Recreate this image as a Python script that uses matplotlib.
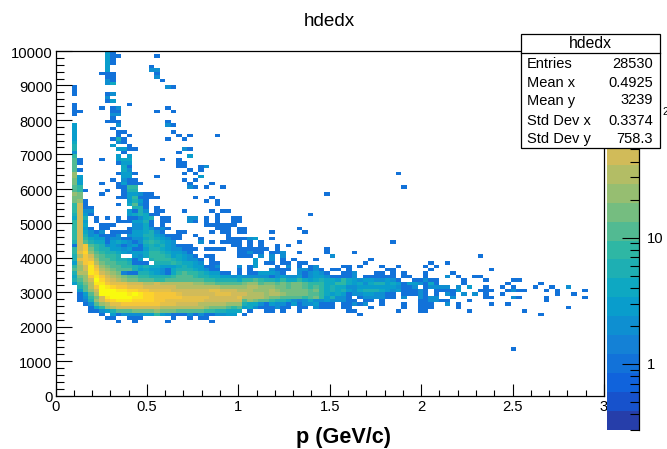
import numpy as np
import matplotlib
matplotlib.use("Agg")
import matplotlib.pyplot as plt
from matplotlib.colors import BoundaryNorm, ListedColormap
from matplotlib.patches import Rectangle
from matplotlib.ticker import LogLocator, MultipleLocator, NullFormatter
from matplotlib.transforms import Affine2D, ScaledTranslation

plt.rcParams["font.family"] = ["Liberation Sans", "DejaVu Sans"]

# histogram binning: 100 x 100 bins
N_BINS = 100
P_MAX = 3.0
DEDX_MAX = 10000

# colour level codes read off the picture and the count each one stands for
LEVEL_CODES = "0123456789abcdefghij"
level_counts = [0.33, 0.47, 0.66, 1, 1.4, 2, 3, 4, 5.5, 8,
                11, 16, 22, 32, 45, 63, 90, 125, 180, 250]

# (dedx bin, first p bin, level codes), "." is an empty bin
sparse_top = [
    (99, 9, "63"), (98, 9, "633"), (98, 18, "3"), (97, 9, "63"), (96, 9, "63"),
    (95, 9, "6"), (95, 17, "3"), (94, 9, "6"), (94, 17, "55"),
    (93, 8, "333"), (93, 18, "3"), (92, 9, "33"), (92, 18, "5"),
    (91, 9, "53"), (91, 19, "3"), (90, 9, "57"), (89, 3, "3"), (89, 20, "53"),
    (88, 3, "3"), (87, 3, "3"), (87, 9, "35"), (86, 9, "5"), (85, 9, "36"),
    (84, 3, "3"), (84, 13, "3"), (83, 3, "3"), (83, 8, "3"), (83, 10, "35"), (83, 20, "3"),
    (82, 3, "33"), (82, 10, "33"), (82, 18, "3"), (82, 21, "3"),
    (81, 3, "3"), (81, 10, "55"), (80, 10, "3"), (79, 9, "333"), (79, 20, "3"),
    (78, 3, "6"), (78, 11, "5"), (78, 20, "53"), (77, 3, "6"), (77, 10, "3"),
    (76, 3, "6"), (76, 11, "33"), (76, 21, "3"),
    (75, 3, "6"), (75, 11, "3"), (75, 13, "3"), (75, 22, "3"), (75, 24, "3"), (75, 29, "3"),
    (74, 3, "6"), (74, 10, "383"), (74, 20, "3"), (74, 23, "3"),
    (73, 3, "7"), (73, 11, "53"), (72, 3, "8"), (72, 10, "6"), (72, 13, "3"),
    (71, 3, "8"), (71, 11, "6633"), (71, 23, "53"),
    (70, 3, "5"), (70, 12, "3"), (70, 22, "3"),
    (69, 3, "9"), (69, 11, "6.6"), (69, 24, "6"),
    (68, 3, "a3"), (68, 8, "3"), (68, 11, "677"), (68, 19, "3"), (68, 22, "3"),
    (67, 3, "a3"), (67, 11, "366"), (67, 22, "33"),
    (66, 3, "a"), (66, 12, "73"), (66, 22, "33"), (66, 26, "35"),
    (65, 3, "a3"), (65, 12, "75"), (65, 24, "3"), (65, 26, "3"),
    (64, 3, "c"), (64, 11, "3663"), (64, 23, "3"), (64, 25, "3"), (64, 62, "3"),
    (63, 3, "c6"), (63, 12, "66"), (63, 18, "3"), (63, 26, "6"),
    (62, 3, "b6"), (62, 10, "3"), (62, 12, "533"), (62, 23, "3"), (62, 25, "3"),
    (61, 3, "b6"), (61, 8, "3"), (61, 11, "36333"), (61, 24, "3"), (61, 28, "3"),
    (60, 3, "a9"), (60, 11, "3399"), (60, 24, "53"), (60, 27, "3"), (60, 30, "3"), (60, 63, "3"),
    (59, 3, "a93"), (59, 9, "3"), (59, 12, "388"),
    (58, 3, "cb"), (58, 8, "3"), (58, 12, "366533"), (58, 49, "3"),
    (57, 3, "bb"), (57, 11, "33693333"), (57, 25, "3"), (57, 28, "3"),
    (56, 3, "bc3"), (56, 13, "6863"), (56, 27, "3"), (56, 29, "3"),
    (55, 3, "9e3"), (55, 11, "3"), (55, 13, "7a53"), (55, 29, "3"),
    (54, 3, "9e33"), (54, 14, "883"), (54, 18, "3"),
    (53, 3, "9e55"), (53, 13, "6385"), (53, 18, "33"), (53, 23, "3"), (53, 28, "3"), (53, 30, "33"),
    (52, 3, "8e63"), (52, 13, "678733"), (52, 29, "3"), (52, 46, "3"),
    (51, 3, "7e8"), (51, 7, "3"), (51, 9, "3"), (51, 11, "3"), (51, 13, "33578"),
    (51, 19, "33"), (51, 24, "55"), (51, 27, "3"), (51, 29, "3"), (51, 32, "33"),
]

# rows starting at p bin 3, the dense part of the ridge
ridge_rows = [
    (50, "9e6.3...3336683.33...53.3.3..33"),
    (49, "9e7..333...5573.3.......333333."),
    (48, "9e63.33...35575353........333.3"),
    (47, "9e7535.3333667853..33....3.33.3"),
    (46, "9e8563335.5668865333..3.....3.."),
    (45, "9e976635533557876533...3....333"),
    (44, "8ea8773676535898765....5.3.3333"),
    (43, "3ega985653563787865333.......33"),
    (42, "9egb9886656336887655333.3333..3"),
    (41, "9fhca98876566799876653........3"),
    (40, "8dgeba998..657999867653.33....3"),
    (39, "8fgfcaa988736.8999876553.3....."),
    (38, "6dghdbaa998333.888987765.33...."),
    (37, "9ceifcbaa998787766678766335...5"),
    (36, "aceigdcbaaa8676653788876533...3"),
    (35, "8ddihedcb43388765379a99876633.3"),
    (34, "7bcgigedcbaa9988889aaa988776656"),
    (33, "8acejhfedcbbaaa99aaaaaaa9988887"),
    (32, "69bdiigfffeeeddeddddddccbbaaaaa"),
    (31, ".8adgjihggfffeeeeeeddddddddcccc"),
    (30, ".6acejjjiihhggffffeeeeeeeffeeed"),
    (29, ".36adjjjjjijihhggggfeeeeeefffee"),
    (28, ".359beijjjjiihhgggggfffffeeeeef"),
    (27, ".348ceghiiihhhhggfffffffeeeeeee"),
    (26, "..35acdffgggggggfffeeeedddddccc"),
    (25, "...379cdeeeeeeeeddddddddcbbba9a"),
    (24, "...33568aaabbbbcbbbaaaaa9988777"),
    (23, ".....3.63555566965333535335566."),
]

# rows starting at p bin 34, the tail of the ridge
tail_rows = [
    (33, "99a98879779767877697656655653..33533"),
    (32, "bccabbababba999779976757886763665373"),
    (31, "cddcccbbabba9a978775566666665335.355"),
    (30, "ddcccdcbbbbbab97878657888765633353.3"),
    (29, "edddcddcbbbbaa97676355665533.33353.."),
    (28, "ddddcbbaaaa9ab968553.3555533.5..5.55"),
    (27, "acbaa9887545755655533.33.3......33.."),
    (26, "87753655363556333.33535..3...3..333."),
    (25, "675333533.33.5333.33...3.....3..33.."),
]

sparse_low = [
    (48, 34, "3"), (48, 44, "3"), (47, 34, "3"), (47, 39, "3"), (47, 45, "3"),
    (45, 34, "356"), (45, 39, "3"), (44, 35, "3.3"), (44, 44, "3"), (44, 61, "3"),
    (43, 35, "3.3"), (43, 40, "3.3"), (42, 34, "33333"), (42, 40, "3"), (42, 49, "3"),
    (41, 34, "3533"), (41, 39, "335"), (41, 44, "3"), (41, 49, "3"), (41, 54, "3"),
    (40, 34, "33.5.5.5"), (40, 50, "5"), (39, 36, "6"), (39, 39, "5.3.3"), (39, 47, "3"), (39, 57, "3"),
    (38, 36, "6.33.33.33"), (38, 56, "3"), (38, 68, "3"),
    (37, 35, "36"), (37, 40, "3.5.3.35"), (37, 52, "33.3"), (37, 59, "3"), (37, 62, "3"), (37, 69, "3"),
    (36, 35, "3"), (36, 39, "5333.55353.33.3"), (36, 60, "33"),
    (35, 35, "3366653"), (35, 44, "535653"), (35, 52, "335"), (35, 58, "33.3.3"), (35, 67, "3"),
    (34, 34, "555553565563566533335"), (34, 56, "333333"), (34, 63, "33"), (34, 67, "5"),
    (24, 35, "3..33.3..3........33.......3"), (23, 34, "3"), (23, 55, "3"),
    (22, 9, "33"), (22, 13, "333"), (22, 21, "3"), (22, 24, "3"), (22, 26, "33"),
    (21, 11, "3"), (21, 14, "3"), (21, 20, "3"), (21, 28, "3"),
]

sparse_right = [
    (40, 77, "3"), (38, 71, "3"), (37, 67, "3"), (36, 68, "3"), (36, 79, "3"),
    (35, 72, "3"), (34, 67, "3"), (34, 71, "5.3"), (34, 76, "33"),
    (33, 67, "6"), (33, 74, "3"), (33, 78, "3"), (33, 83, "33"),
    (32, 67, "633"), (32, 74, "3"), (32, 82, "3"), (32, 88, "3"),
    (31, 67, "36"), (31, 70, "55.5.6"), (31, 78, "3"), (31, 81, "3.3"), (31, 87, "3"), (31, 90, "3"), (31, 93, "5"),
    (30, 67, "3.5333"), (30, 73, "6"), (30, 77, "333"), (30, 82, "3533"), (30, 89, "3"), (30, 91, "3"), (30, 96, "3"),
    (29, 67, "3.3.53.5"), (29, 76, "5.3"), (29, 81, "3"), (29, 91, "3"), (29, 94, "3"),
    (28, 67, "33"), (28, 72, "5"), (28, 78, "33"), (28, 83, "53"), (28, 89, "3"), (28, 96, "3"),
    (27, 68, "5533"), (27, 75, "3"), (27, 89, "3"),
    (26, 67, "3"), (26, 71, "5.3"), (26, 79, "3"), (26, 82, "3"),
    (25, 67, "33"), (25, 73, "3"), (25, 93, "3"),
    (24, 66, "33"), (24, 75, "3"), (24, 85, "3"), (23, 88, "3"), (13, 83, "3"),
]

p_ticks = [0, 0.5, 1, 1.5, 2, 2.5, 3]

# stats box
stats_title = "hdedx"
stats_names = ["Entries", "Mean x", "Mean y", "Std Dev x", "Std Dev y"]
stats_values = ["28530", "0.4925", "3239", "0.3374", "758.3"]

# ROOT kBird palette
bird_stops = [0.0, 0.125, 0.25, 0.375, 0.5, 0.625, 0.75, 0.875, 1.0]
bird_red = [0.2082, 0.0592, 0.0780, 0.0232, 0.1802, 0.5301, 0.8186, 0.9956, 0.9764]
bird_green = [0.1664, 0.3599, 0.5041, 0.6419, 0.7178, 0.7492, 0.7328, 0.7862, 0.9832]
bird_blue = [0.5293, 0.8684, 0.8385, 0.7914, 0.6425, 0.4662, 0.3499, 0.1968, 0.0539]

counts = np.full((N_BINS, N_BINS), np.nan)


def fill(row, col, codes):
    for k, code in enumerate(codes):
        if code != ".":
            counts[row, col + k] = level_counts[LEVEL_CODES.index(code)]


for row, col, codes in sparse_top + sparse_low + sparse_right:
    fill(row, col, codes)
for row, codes in ridge_rows:
    fill(row, 3, codes)
for row, codes in tail_rows:
    fill(row, 34, codes)

p_edges = np.linspace(0, P_MAX, N_BINS + 1)
dedx_edges = np.linspace(0, DEDX_MAX, N_BINS + 1)

# 20 contour levels, ROOT takes each colour at the upper end of its level
t = (np.arange(20) + 1) / 20
bird_20 = ListedColormap(np.column_stack([
    np.interp(t, bird_stops, bird_red),
    np.interp(t, bird_stops, bird_green),
    np.interp(t, bird_stops, bird_blue),
]))
levels = np.logspace(np.log10(0.3), np.log10(300), 21)
norm = BoundaryNorm(levels, 20)

W, H = 667, 449
fig = plt.figure(figsize=(W / 100, H / 100), dpi=100)
# pixel coordinates of the reference, origin top left
px = Affine2D().scale(1 / W, -1 / H).translate(0, 1) + fig.transFigure

ax = fig.add_axes([55.5 / W, (H - 395.5) / H, 548.5 / W, 344.5 / H])
ax.pcolormesh(p_edges, dedx_edges, np.ma.masked_invalid(counts), cmap=bird_20, norm=norm, edgecolors="none")
ax.set_xlim(0, P_MAX)
ax.set_ylim(0, DEDX_MAX)
ax.set_xticks(p_ticks)
ax.set_xticklabels([f"{v:g}" for v in p_ticks])
ax.xaxis.set_minor_locator(MultipleLocator(0.1))
ax.yaxis.set_major_locator(MultipleLocator(1000))
ax.yaxis.set_minor_locator(MultipleLocator(200))
ax.tick_params(axis="x", which="major", direction="in", length=8.6, width=0.8, labelsize=10.6, pad=3)
ax.tick_params(axis="x", which="minor", direction="in", length=4.3, width=0.8)
ax.tick_params(axis="y", which="major", direction="in", length=11.5, width=0.8, labelsize=10.6, pad=2)
ax.tick_params(axis="y", which="minor", direction="in", length=5.8, width=0.8)
for spine in ax.spines.values():
    spine.set_linewidth(0.9)
# y labels sit a pixel lower in the reference
shift = ScaledTranslation(0, -1.2 / 100, fig.dpi_scale_trans)
for label in ax.get_yticklabels():
    label.set_transform(label.get_transform() + shift)

# palette bar
cax = fig.add_axes([607 / W, (H - 430) / H, 32 / W, 379 / H], zorder=3)
cax.pcolormesh([0, 1], levels, np.array(level_counts).reshape(-1, 1), cmap=bird_20, norm=norm, edgecolors="none")
cax.set_yscale("log")
cax.set_ylim(0.3, 300)
cax.set_xlim(0, 1)
cax.set_xticks([])
cax.yaxis.tick_right()
cax.set_yticks([1, 10, 100])
cax.set_yticklabels(["1", "10", ""])
cax.yaxis.set_minor_locator(LogLocator(base=10, subs=range(2, 10)))
cax.yaxis.set_minor_formatter(NullFormatter())
cax.tick_params(axis="y", which="major", direction="in", length=12, width=0.8, labelsize=10.6, pad=6)
cax.tick_params(axis="y", which="minor", direction="in", length=6.5, width=0.8)
for side in ["left", "top", "bottom"]:
    cax.spines[side].set_visible(False)
cax.spines["right"].set_linewidth(0.9)

# only the exponent of the 10^2 label shows beside the stats box
fig.text(662, 112, "2", transform=px, fontsize=7.5, va="center", zorder=4)

fig.text(329, 21, "hdedx", transform=px, fontsize=13.6, ha="center", va="center")
fig.text(344, 437, "p (GeV/c)", transform=px, fontsize=15.6, fontweight="bold", ha="center", va="center")

# stats box on top of everything
box = Rectangle((521, 34), 139, 114, transform=px, facecolor="white", edgecolor="black", linewidth=0.9, zorder=5)
fig.add_artist(box)
fig.add_artist(plt.Line2D([521, 660], [52.5, 52.5], transform=px, color="black", linewidth=0.9, zorder=6))
fig.text(590, 44, stats_title, transform=px, fontsize=11.3, ha="center", va="center", zorder=6)
stat_rows_y = [64, 83, 100.5, 121, 139]
for name, value, y in zip(stats_names, stats_values, stat_rows_y):
    fig.text(527, y, name, transform=px, fontsize=10.5, ha="left", va="center", zorder=6)
    fig.text(653, y, value, transform=px, fontsize=10.5, ha="right", va="center", zorder=6)

fig.savefig("out.png", dpi=100)
